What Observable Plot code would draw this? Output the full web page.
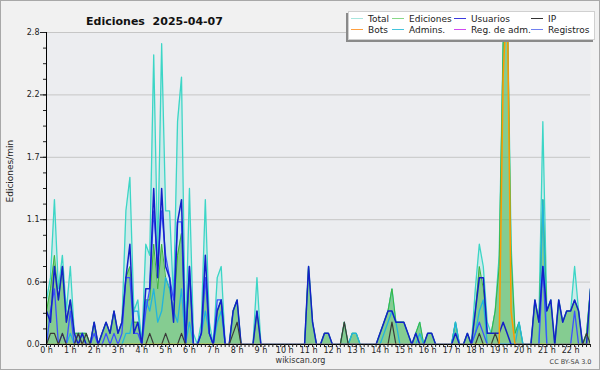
<!DOCTYPE html>
<html><head><meta charset="utf-8">
<script src="https://cdn.jsdelivr.net/npm/d3@7"></script>
<script src="https://cdn.jsdelivr.net/npm/@observablehq/plot@0.6"></script>
<style>
body{margin:0;background:#fff;}
#wrap{position:relative;width:600px;height:370px;background:#f1f1f1;font-family:"DejaVu Sans",sans-serif;overflow:hidden;}
#wrap svg{position:absolute;left:0;top:0;}
#border{position:absolute;left:0;top:0;width:600px;height:370px;box-sizing:border-box;border:1px solid #a8a8a8;pointer-events:none;}
#legend{position:absolute;left:348px;top:11px;width:245px;height:27px;background:#fff;border:1px solid #d0d0d0;box-shadow:-2px 2px 0 #8a8a8a;}
.li{position:absolute;font-size:9px;color:#222;line-height:10px;white-space:nowrap;}
.li i{display:inline-block;width:12px;height:0;border-top:1px solid;vertical-align:middle;margin-right:5px;position:relative;top:-1px;}
</style></head><body>
<div id="wrap"><div id="border"></div></div>
<script>
// 10-minute bins from 00:00 to 22:50, edits per minute
const total = [
 0.4,0.6,1.3,0.5,0.8,
 0.3,0.7,0.1,0.1,0.1,0.1,
 0,0.2,0,0.1,0.2,0.1,
 0.3,0.1,0.2,1.2,1.5,0.3,
 0.4,0,0.9,0.8,2.6,0.8,
 2.7,1.2,1.2,0.4,2.0,2.4,
 0,1.4,0.1,0,0.2,1.3,
 0.2,0,0.6,0.7,0,0,
 0.3,0.4,0,0,0,0,
 0.6,0,0,0,0,0,
 0,0,0,0,0,0,
 0,0.7,0.2,0,0,0.1,
 0.1,0,0,0,0.2,0,
 0.1,0.1,0,0,0,0,
 0,0.1,0.2,0.3,0.5,0.2,
 0.2,0.2,0.1,0,0.1,0.2,
 0,0.1,0.1,0,0,0,
 0,0,0.2,0,0,0.1,
 0,0.5,0.9,0.7,0.2,0.1,
 0.3,0.8,2.7,3.2,0.9,0.1,
 0.2,0,0,0,0.4,0.2,
 2.0,0.3,0.4,0,0.4,0.2,
 0.3,0.3,0.7,0.3,0,0.1,
 0.5];
const ediciones = [
 0.3,0.5,0.8,0.4,0.7,
 0.2,0.4,0.1,0.1,0.1,0.1,
 0,0.2,0,0.1,0.2,0.1,
 0.3,0.1,0.2,0.6,0.7,0.2,
 0.2,0,0.4,0.4,0.9,0.5,
 0.9,0.6,0.5,0.3,0.8,1.0,
 0,0.6,0,0,0.1,0.6,
 0.1,0,0.3,0.4,0,0,
 0.3,0.4,0,0,0,0,
 0.3,0,0,0,0,0,
 0,0,0,0,0,0,
 0,0.7,0.2,0,0,0.1,
 0.1,0,0,0,0.2,0,
 0.1,0.1,0,0,0,0,
 0,0.1,0.2,0.3,0.5,0.2,
 0.2,0.2,0.1,0,0.1,0.2,
 0,0.1,0.1,0,0,0,
 0,0,0.2,0,0,0.1,
 0,0.3,0.7,0.5,0.1,0.1,
 0.3,0.7,2.7,3.2,0.8,0.1,
 0.2,0,0,0,0.4,0.2,
 1.3,0.3,0.4,0,0.4,0.2,
 0.3,0.3,0.4,0.3,0,0.1,
 0.5];
const usuarios = [
 0.3,0.2,0.7,0.4,0.7,
 0.2,0.4,0.1,0,0.1,0,
 0,0.2,0,0.1,0.2,0.1,
 0.3,0.1,0.2,0.6,0.9,0.1,
 0.2,0,0.5,0.5,1.4,0.6,
 1.4,0.7,0.6,0.2,1.1,1.3,
 0,0.7,0,0,0.1,0.8,
 0.1,0,0.3,0.4,0,0,
 0.3,0.4,0,0,0,0,
 0.3,0,0,0,0,0,
 0,0,0,0,0,0,
 0,0.7,0.2,0,0,0.1,
 0.1,0,0,0,0,0,
 0,0,0,0,0,0,
 0,0.1,0.2,0.3,0.3,0.2,
 0.2,0.2,0.1,0,0.1,0,
 0,0.1,0.1,0,0,0,
 0,0,0.1,0,0,0.1,
 0,0.3,0.6,0.6,0.1,0.1,
 0.1,0.1,0.2,0.1,0,0,
 0,0,0,0,0.4,0.2,
 0.7,0.3,0.4,0,0.4,0.2,
 0.3,0.3,0.4,0.3,0,0,
 0.5];
const ip = [
 0,0.1,0.1,0,0.1,
 0,0,0,0.1,0,0.1,
 0,0,0,0,0,0,
 0,0,0,0,0,0,
 0,0,0,0.1,0,0,
 0,0.1,0,0,0,0.1,
 0,0,0,0,0,0,
 0,0,0,0,0,0,
 0.1,0.2,0,0,0,0,
 0,0,0,0,0,0,
 0,0,0,0,0,0,
 0,0,0,0,0,0,
 0,0,0,0,0.2,0,
 0,0,0,0,0,0,
 0,0,0,0,0.2,0,
 0,0,0,0,0,0,
 0,0,0,0,0,0,
 0,0,0,0,0,0,
 0,0,0.1,0,0,0,
 0.1,0,0,0,0,0,
 0,0,0,0,0,0,
 0,0,0,0,0,0,
 0,0,0,0,0,0.1,
 0];
const bots = [
 0,0,0,0,0,
 0,0,0,0,0,0, 0,0,0,0,0,0, 0,0,0,0,0,0, 0,0,0,0,0,0,
 0,0,0,0,0,0, 0,0,0,0,0,0, 0,0,0,0,0,0, 0,0,0,0,0,0,
 0,0,0,0,0,0, 0,0,0,0,0,0, 0,0,0,0,0,0, 0,0,0,0,0,0,
 0,0,0,0,0,0, 0,0,0,0,0,0, 0,0,0,0,0,0, 0,0,0,0,0,0,
 0,0,0,0,0,0, 0,0,0,0,0,0,
 0,0,2.4,3.2,0.3,0,
 0,0,0,0,0,0, 0,0,0,0,0,0, 0,0,0,0,0,0,
 0];
const admins = [
 0,0,0,0,0,
 0,0.1,0,0,0.1,0,
 0,0,0,0,0,0,
 0,0,0,0.1,0.1,0.3,
 0.3,0,0.4,0.3,0.5,0.2,
 0.3,0.6,0.5,0.3,0.2,0.5,
 0,0.2,0,0,0.1,0.3,
 0.1,0,0.2,0.3,0,0,
 0,0,0,0,0,0,
 0,0,0,0,0,0,
 0,0,0,0,0,0,
 0,0,0,0,0,0,
 0,0,0,0,0,0,
 0.1,0.1,0,0,0,0,
 0,0,0.1,0.2,0.3,0.2,
 0,0,0,0,0,0.1,
 0,0,0,0,0,0,
 0,0,0.2,0,0,0,
 0,0.1,0.3,0.4,0,0,
 0,0,0,0,0,0,
 0.2,0,0,0,0,0,
 1.3,0,0,0,0,0,
 0,0,0,0,0,0,
 0];
const registros = [
 0,0.3,0.5,0,0.1,
 0,0.3,0,0.1,0,0,
 0,0.1,0,0,0.1,0,
 0.1,0,0.1,0.6,0.6,0.1,
 0.1,0,0.3,0.5,1.2,0.7,
 1.2,0.8,0.6,0.4,1.1,1.1,
 0,0.7,0,0,0.1,0.6,
 0.1,0,0.4,0.4,0,0,
 0,0,0,0,0,0, 0,0,0,0,0,0, 0,0,0,0,0,0, 0,0,0,0,0,0,
 0,0,0,0,0,0, 0,0,0,0,0,0, 0,0,0,0,0,0, 0,0,0,0,0,0,
 0,0,0,0,0,0, 0,0,0,0,0,0,
 0,0.1,0.2,0.1,0,0,
 0,0,0,0,0,0,
 0,0,0,0,0,0,
 0.7,0,0,0,0,0,
 0,0,0.3,0,0,0,
 0];
const hourTicks = d3.range(0, 23);
const yTickValues = [0, 0.56, 1.12, 1.68, 2.24, 2.8];
const legendNames = ["Total","Ediciones","Usuarios","IP","Bots","Admins.","Reg. de adm.","Registros"];
const legendColors = ["#a8e6de","#88d888","#3a3ae0","#333333","#ffa040","#44c4dc","#d048f0","#7080f0"];
const titleText = "Ediciones\u00a0 2025-04-07";

const data = total.map((t, i) => ({
  h: i / 6, total: t, ediciones: ediciones[i], usuarios: usuarios[i], ip: ip[i],
  bots: bots[i], admins: admins[i], registros: registros[i]
}));
const xMinor = data.map(d => d.h);
const yMinor = d3.range(21).map(k => k * 0.14);
const xMax = (total.length - 1) / 6;

const chart = Plot.plot({
  width: 600, height: 370,
  marginLeft: 46, marginRight: 10, marginTop: 32, marginBottom: 26,
  style: {background: "transparent", fontFamily: "DejaVu Sans", color: "#222", overflow: "visible"},
  x: {domain: [0, xMax], label: null},
  y: {domain: [0, 2.8], label: null},
  marks: [
    Plot.frame({fill: "#ecedf0", stroke: null}),
    Plot.ruleY(yTickValues.slice(1), {stroke: "#c6c6c6"}),
    Plot.areaY(data, {x: "h", y: "total", fill: "#40e0d0", fillOpacity: 0.18, clip: true}),
    Plot.areaY(data, {x: "h", y: "ediciones", fill: "#55b855", fillOpacity: 0.6, clip: true}),
    Plot.lineY(data, {x: "h", y: "total", stroke: "#3cd6c6", strokeWidth: 1.3, clip: true}),
    Plot.lineY(data, {x: "h", y: "ediciones", stroke: "#3cb43c", strokeWidth: 1, clip: true}),
    Plot.lineY(data, {x: "h", y: "admins", stroke: "#22b4dc", strokeWidth: 1.3, clip: true}),
    Plot.lineY(data, {x: "h", y: "registros", stroke: "#3c50ff", strokeWidth: 1.3, clip: true}),
    Plot.lineY(data, {x: "h", y: "usuarios", stroke: "#1420c8", strokeWidth: 1.5, clip: true}),
    Plot.lineY(data, {x: "h", y: "ip", stroke: "#3a3a3a", strokeWidth: 1.2, clip: true}),
    Plot.lineY(data, {x: "h", y: "bots", stroke: "#ff9a00", strokeWidth: 1.5, clip: true}),
    Plot.ruleX([0], {stroke: "#000"}),
    Plot.ruleY([0], {stroke: "#000"}),
    Plot.axisY(yMinor, {tickSize: 3, tickFormat: () => "", label: null}),
    Plot.axisY(yTickValues, {tickSize: 6, tickPadding: 1, tickFormat: d => d.toFixed(1), fontSize: 8, label: null}),
    Plot.axisX(xMinor, {tickSize: 3, tickFormat: () => "", label: null}),
    Plot.axisX(hourTicks, {tickSize: 3, tickPadding: 0, tickFormat: d => d + " h", fontSize: 8, label: null}),
    Plot.text([titleText], {text: d => d, frameAnchor: "top-left", dx: 108, dy: -15, fontWeight: "bold", fontSize: 11, textAnchor: "middle", fill: "#111"}),
    Plot.text(["Ediciones/min"], {text: d => d, frameAnchor: "left", rotate: -90, dx: -36, dy: 14, fontSize: 9, fill: "#222"}),
    Plot.text(["wikiscan.org"], {text: d => d, frameAnchor: "bottom", dx: -18, dy: 18, fontSize: 8, fill: "#333"}),
    Plot.text(["CC BY-SA 3.0"], {text: d => d, frameAnchor: "bottom-right", dy: 19, dx: 1, textAnchor: "end", fontSize: 6.5, fill: "#444"})
  ]
});
const wrap = document.getElementById("wrap");
wrap.insertBefore(chart, wrap.firstChild);

const legend = document.createElement("div");
legend.id = "legend";
const colX = [2, 43, 105, 182];
legendNames.forEach((name, k) => {
  const el = document.createElement("div");
  el.className = "li";
  el.style.left = colX[k % 4] + "px";
  el.style.top = (k < 4 ? 2 : 13) + "px";
  el.innerHTML = `<i style="border-color:${legendColors[k]}"></i>${name}`;
  legend.appendChild(el);
});
wrap.appendChild(legend);
</script>
</body></html>
